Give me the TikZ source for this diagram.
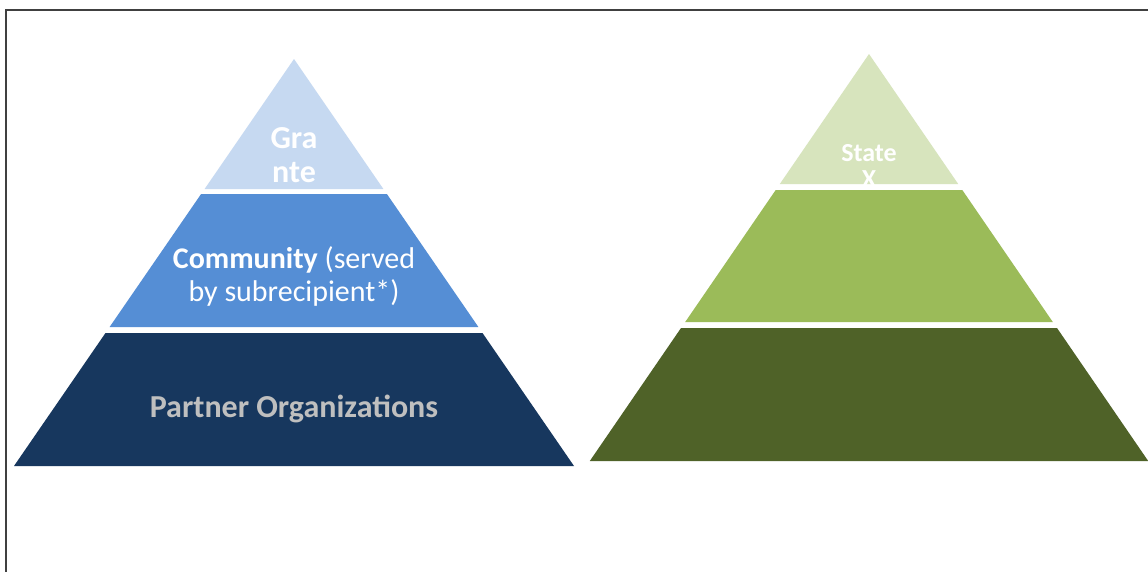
\documentclass[tikz,border=0pt]{standalone}
\usepackage{fontspec}
\setmainfont{Carlito}
\definecolor{bTop}{HTML}{C6D9F1}
\definecolor{bMid}{HTML}{558ED5}
\definecolor{bBot}{HTML}{17375E}
\definecolor{gTop}{HTML}{D7E4BD}
\definecolor{gMid}{HTML}{9BBB59}
\definecolor{gBot}{HTML}{4F6228}
\definecolor{frameC}{HTML}{404040}
\definecolor{grayTxt}{HTML}{BFBFBF}
\tikzset{
  layer/.style={draw=none},
  lbl/.style={text=white, align=center, inner sep=0pt},
}
\begin{document}
\begin{tikzpicture}[x=1pt,y=-1pt]
\useasboundingbox (0,0) rectangle (1148,571);
\fill[white] (0,0) rectangle (1148,571);
% frame
\draw[frameC, line width=2pt] (6,580) -- (6,10) -- (1160,10);
% left pyramid
\fill[bTop] (294,59) -- (383.4,189) -- (204.6,189) -- cycle;
\fill[bMid] (201.1,194) -- (386.9,194) -- (478.4,327) -- (109.6,327) -- cycle;
\fill[bBot] (105.5,333) -- (482.5,333) -- (574,466) -- (14,466) -- cycle;
% right pyramid
\fill[gTop] (869,54) -- (958.2,184) -- (779.8,184) -- cycle;
\fill[gMid] (775.7,190) -- (962.3,190) -- (1052.8,322) -- (685.2,322) -- cycle;
\fill[gBot] (681,328) -- (1057,328) -- (1148.2,461) -- (589.8,461) -- cycle;
% texts
\node[lbl, font=\fontsize{32}{34}\selectfont\bfseries] (gra) at (294,155) {Gra\\nte};
\node[lbl, font=\fontsize{30}{33}\selectfont] (com) at (294,276) {\textbf{Community} (served\\by subrecipient*)};
\node[lbl, text=grayTxt, font=\fontsize{32}{34}\selectfont\bfseries] (par) at (294,409) {Partner Organizations};
\begin{scope}
\clip (869,54) -- (958.2,184) -- (779.8,184) -- cycle;
\node[lbl, font=\fontsize{26}{26}\selectfont\bfseries] (sta) at (869,166) {State\\X};
\end{scope}
\end{tikzpicture}
\end{document}
